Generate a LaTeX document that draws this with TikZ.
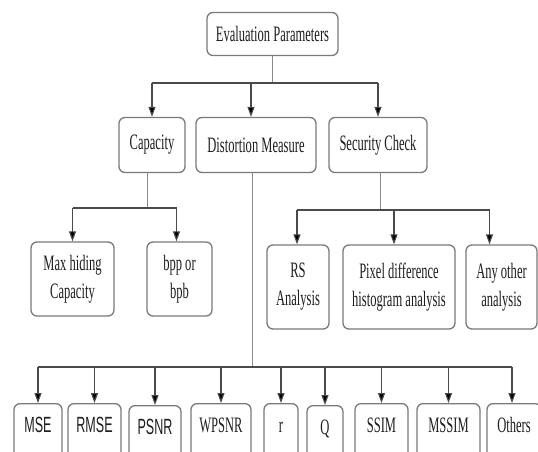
\documentclass[tikz,border=0pt]{standalone}
\usepackage{fontspec}
\setmainfont{Liberation Serif}[FakeStretch=0.57]
\newfontfamily\narrowsans{Liberation Sans}[FakeStretch=0.57]
\usetikzlibrary{arrows.meta}
\definecolor{boxline}{HTML}{7A7A7A}
\definecolor{stemline}{HTML}{8A8A8A}
\definecolor{busline}{HTML}{4A4A4A}
\definecolor{txt}{HTML}{1E1E1E}
\begin{document}
\begin{tikzpicture}[x=1pt,y=-1pt,
  box/.style={draw=boxline,line width=1.3pt,rounded corners=6pt,fill=white,
    text=txt,align=center,inner sep=0pt,
    font=\fontsize{22}{28}\selectfont},
  leaf/.style={box,anchor=north,text height=15pt,text depth=22pt,inner ysep=14pt},
  stem/.style={draw=stemline,line width=0.9pt},
  bus/.style={draw=busline,line width=1.3pt},
  arr/.style={draw=busline,line width=1.1pt,-{Triangle[length=10pt,width=7pt,fill=black]}}]
\useasboundingbox (0,0) rectangle (538,452);
\clip (0,0) rectangle (538,452);
% top
\node[box,minimum width=131pt,minimum height=43pt] (ep) at (272.5,34) {Evaluation Parameters};
% level 2
\node[box,minimum width=66pt,minimum height=55pt] (cap) at (152,145) {Capacity};
\node[box,minimum width=120pt,minimum height=55pt] (dist) at (256,145) {Distortion Measure};
\node[box,minimum width=98pt,minimum height=55pt] (sec) at (378,145) {Security Check};
% capacity children
\node[box,minimum width=83pt,minimum height=74pt] (maxh) at (72.5,279) {Max hiding\\Capacity};
\node[box,minimum width=65pt,minimum height=74pt] (bpp) at (179.5,279) {bpp or\\bpb};
% security children
\node[box,minimum width=62pt,minimum height=84pt] (rs) at (298,287) {RS\\Analysis};
\node[box,minimum width=112pt,minimum height=84pt] (pix) at (399,287) {Pixel difference\\histogram analysis};
\node[box,minimum width=71pt,minimum height=84pt] (any) at (501.5,287) {Any other\\analysis};
% distortion leaves
\node[leaf,minimum width=48pt] (mse) at (38,403) {\narrowsans MSE};
\node[leaf,minimum width=53pt] (rmse) at (94.5,403) {\narrowsans RMSE};
\node[leaf,minimum width=52pt] (psnr) at (155,405) {\narrowsans PSNR};
\node[leaf,minimum width=60pt] (wpsnr) at (221,403) {WPSNR};
\node[leaf,minimum width=34pt] (r) at (281,403) {r};
\node[leaf,minimum width=36pt] (q) at (325,405) {Q};
\node[leaf,minimum width=53pt] (ssim) at (381.5,403) {SSIM};
\node[leaf,minimum width=63pt] (mssim) at (448.5,403) {MSSIM};
\node[leaf,minimum width=54pt] (others) at (514,403) {Others};
% bus coordinates
\coordinate (epbus) at (273,83);
\coordinate (capbus) at (147,208);
\coordinate (secbus) at (380,210);
\coordinate (distbus) at (252,367);
% top level connectors
\draw[stem] (ep.south) -- (ep.south |- epbus);
\draw[bus] (cap.north |- epbus) -- (sec.north |- epbus);
\draw[arr] (cap.north |- epbus) -- (cap.north);
\draw[arr] ([xshift=-5pt]dist.north |- epbus) -- ([xshift=-5pt]dist.north);
\draw[arr] (sec.north |- epbus) -- (sec.north);
% capacity
\draw[stem] ([xshift=-5pt]cap.south) -- ([xshift=-5pt]cap.south |- capbus);
\draw[bus] (maxh.north |- capbus) -- ([xshift=-3pt]bpp.north |- capbus);
\draw[arr] (maxh.north |- capbus) -- (maxh.north);
\draw[arr] ([xshift=-3pt]bpp.north |- capbus) -- ([xshift=-3pt]bpp.north);
% security
\draw[stem] ([xshift=2pt]sec.south) -- ([xshift=2pt]sec.south |- secbus);
\draw[bus] ([xshift=-1pt]rs.north |- secbus) -- ([xshift=-12pt]any.north |- secbus);
\draw[arr] ([xshift=-1pt]rs.north |- secbus) -- ([xshift=-1pt]rs.north);
\draw[arr] ([xshift=-5pt]pix.north |- secbus) -- ([xshift=-5pt]pix.north);
\draw[arr] ([xshift=-12pt]any.north |- secbus) -- ([xshift=-12pt]any.north);
% distortion
\draw[stem] ([xshift=-4pt]dist.south) -- ([xshift=-4pt]dist.south |- distbus);
\draw[bus] (mse.north |- distbus) -- ([xshift=-2pt]others.north |- distbus);
\foreach \n in {mse,rmse,psnr,wpsnr,r,q,ssim,mssim}
  \draw[arr] (\n.north |- distbus) -- (\n.north);
\draw[arr] ([xshift=-2pt]others.north |- distbus) -- ([xshift=-2pt]others.north);
\end{tikzpicture}
\end{document}
